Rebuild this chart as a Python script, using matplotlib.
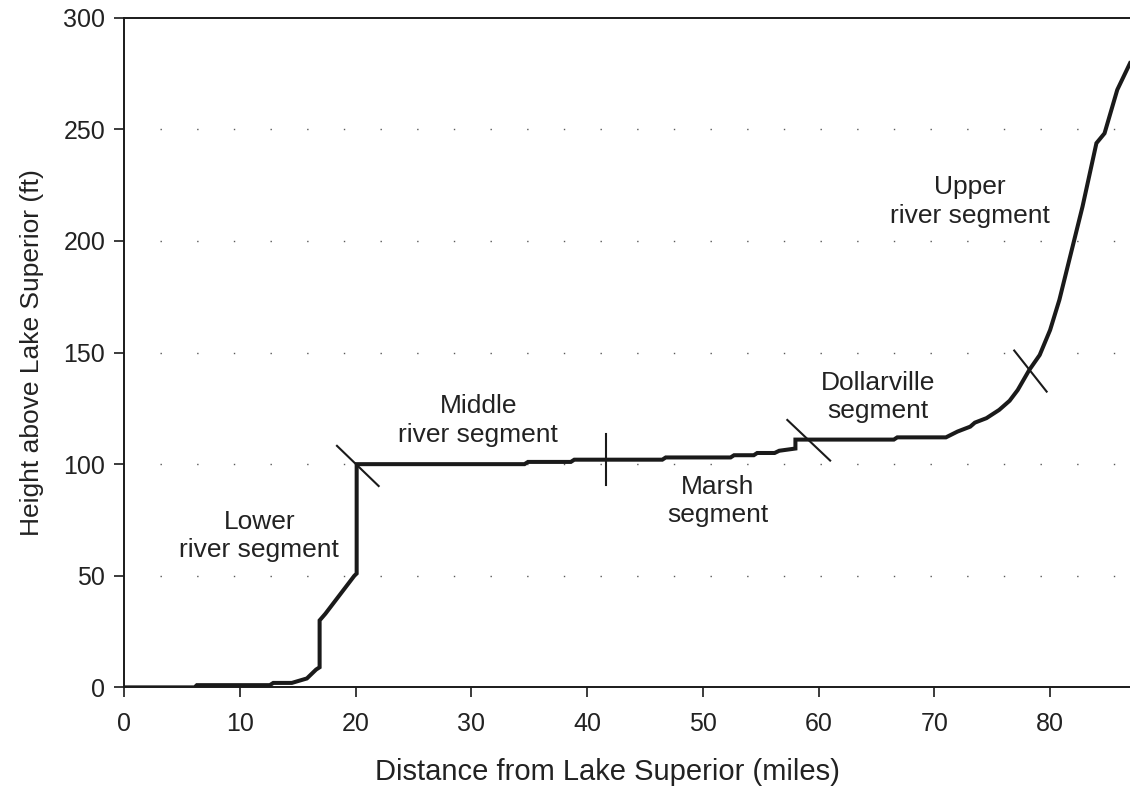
import matplotlib
matplotlib.use("Agg")
import matplotlib.pyplot as plt

# river profile
dist_miles = [0, 6.1, 6.3, 12.6, 12.9, 14.5, 15.8, 16.6, 16.9, 16.9, 17.4, 19.9,
              20.1, 20.1, 34.6, 34.9, 38.6, 38.9, 46.5, 46.8, 52.4, 52.7, 54.4,
              54.7, 56.2, 56.6, 57.3, 58.0, 58.0, 66.5, 66.8, 71.0, 72.0, 73.1,
              73.5, 74.5, 75.6, 76.5, 77.2, 78.2, 79.1, 80.0, 80.8, 81.8, 82.8,
              84.0, 84.7, 85.8, 86.9]
height_ft = [0, 0, 1, 1, 2, 2, 4, 8, 9, 30, 33, 50,
             51, 100, 100, 101, 101, 102, 102, 103, 103, 104, 104,
             105, 105, 106, 106.5, 107, 111, 111, 112, 112, 114.6, 116.8,
             118.6, 120.6, 124.3, 128.4, 133.2, 142.2, 148.9, 160.1, 173.6, 194.5, 215.4,
             243.8, 248.2, 267.7, 279.6]

# segment boundary ticks: (x0, y0, x1, y1)
boundaries = [
    (18.4, 108.2, 22.0, 90.2),
    (41.6, 113.4, 41.6, 90.7),
    (57.3, 119.8, 61.0, 101.6),
    (76.9, 150.9, 79.7, 132.5),
]

seg_labels = ["Lower\nriver segment", "Middle\nriver segment", "Marsh\nsegment",
              "Dollarville\nsegment", "Upper\nriver segment"]
seg_x = [11.7, 30.6, 51.3, 65.1, 73.1]
seg_y = [67.8, 119.4, 83.5, 130.1, 217.5]

grid_levels = [50, 100, 150, 200, 250]
x_ticks = [0, 10, 20, 30, 40, 50, 60, 70, 80]
y_ticks = [0, 50, 100, 150, 200, 250, 300]

plt.rcParams["font.family"] = ["Liberation Sans", "DejaVu Sans"]
plt.rcParams["font.size"] = 18

fig = plt.figure(figsize=(11.3, 7.9), dpi=100)
ax = fig.add_axes([0.1097, 0.1299, 0.8903, 0.8477])

ax.hlines(grid_levels, 3.1, 86.9, colors="0.35", linewidth=1.0,
          linestyles=[(0, (1, 25.4))], zorder=1)

ax.plot(dist_miles, height_ft, color="#1a1a1a", linewidth=2.9,
        solid_joinstyle="miter", zorder=3)

for x0, y0, x1, y1 in boundaries:
    ax.plot([x0, x1], [y0, y1], color="#1a1a1a", linewidth=1.5, zorder=4)

for label, x, y in zip(seg_labels, seg_x, seg_y):
    ax.text(x, y, label, ha="center", va="center", color="#222222",
            fontsize=19, linespacing=1.25)

ax.set_xlim(0, 86.9)
ax.set_ylim(0, 300)
ax.set_xticks(x_ticks)
ax.set_yticks(y_ticks)
ax.spines["right"].set_visible(False)
for side in ["left", "bottom", "top"]:
    ax.spines[side].set_linewidth(1.4)
    ax.spines[side].set_color("#1a1a1a")
ax.tick_params(direction="out", length=7, width=1.2, colors="#1a1a1a",
               labelcolor="#222222")
ax.tick_params(axis="x", pad=11)
ax.tick_params(axis="y", pad=6.5)
ax.set_xlabel("Distance from Lake Superior (miles)", color="#222222",
              fontsize=21, labelpad=13)
ax.xaxis.set_label_coords(0.4806, -0.105)
ax.set_ylabel("Height above Lake Superior (ft)", color="#222222",
              fontsize=19, labelpad=14)

fig.savefig("out.png", dpi=100)
plt.close(fig)
